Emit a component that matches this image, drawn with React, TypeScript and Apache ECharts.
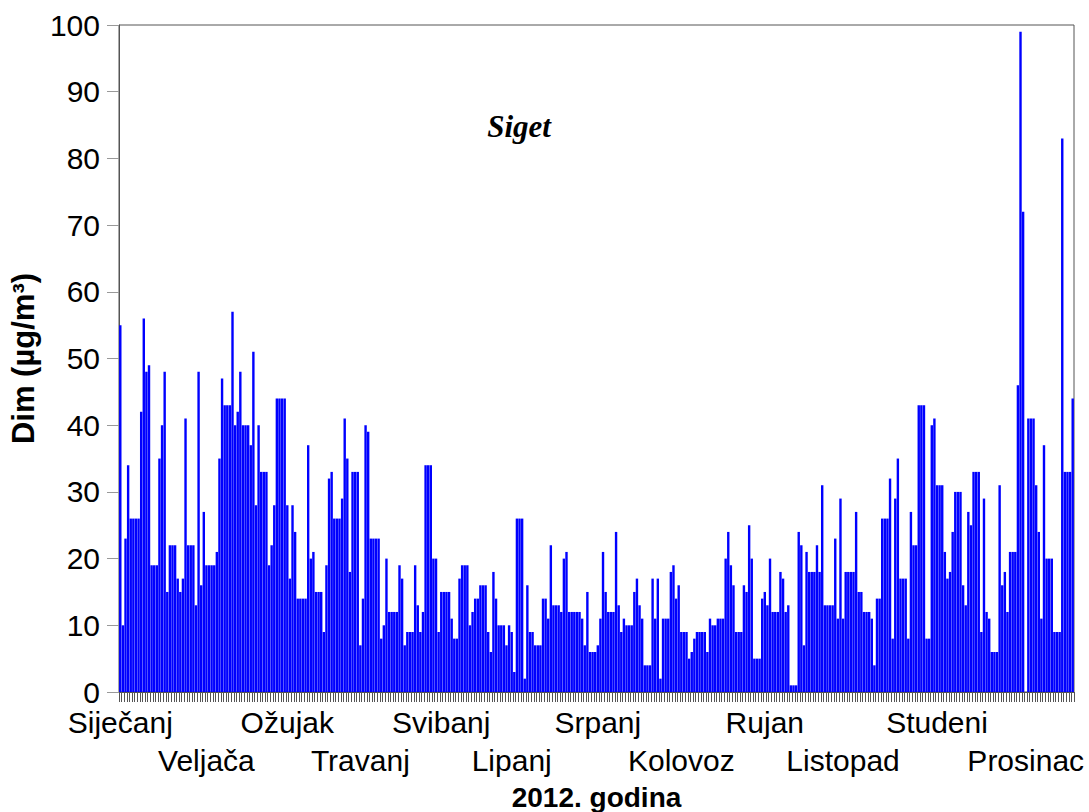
import { useEffect, useRef } from "react";
import * as echarts from "echarts";

// Month names (category labels)
const MONTHS = [
  "Siječanj", "Veljača", "Ožujak", "Travanj", "Svibanj", "Lipanj",
  "Srpanj", "Kolovoz", "Rujan", "Listopad", "Studeni", "Prosinac",
];

// Daily smoke concentration (µg/m³), 2012, Siget
const jan = [55,10,23,34,26,26,26,26,42,56,48,49,19,19,19,35,40,48,15,22,22,22,17,15,17,41,22,22,22,13,48];
const feb = [16,27,19,19,19,19,21,35,47,43,43,43,57,40,42,48,40,40,40,37,51,28,40,33,33,33,19,22,28];
const mar = [44,44,44,44,28,17,28,24,14,14,14,14,37,20,21,15,15,15,9,19,32,33,26,26,26,29,41,35,18,33,33];
const apr = [33,7,14,40,39,23,23,23,23,8,10,20,12,12,12,12,19,17,7,9,9,9,19,13,9,12,34,34,34,20];
const may = [20,9,15,15,15,15,11,8,8,17,19,19,19,10,12,14,14,16,16,16,9,6,18,14,10,10,10,7,10,9,3];
const jun = [26,26,26,2,16,9,9,7,7,7,14,14,11,22,13,13,13,12,20,21,12,12,12,12,12,11,7,15,6,6];
const jul = [6,7,11,21,15,12,12,12,24,13,9,11,10,10,10,15,17,13,11,4,4,4,17,11,17,2,11,11,11,18,19];
const aug = [14,16,9,9,9,5,6,8,9,9,9,9,6,11,10,10,11,11,11,20,24,19,16,9,9,9,16,15,25,20,5];
const sep = [5,5,14,15,13,20,12,12,12,18,17,12,13,1,1,1,24,22,7,21,18,18,18,22,18,31,13,13,13,13];
const oct = [23,11,29,11,18,18,18,18,27,15,15,12,12,12,11,4,14,14,26,26,26,32,8,29,35,17,17,17,8,27,22];
const nov = [22,43,43,43,8,8,40,41,31,31,31,21,17,18,24,30,30,30,16,13,27,25,33,33,33,9,29,12,11,6];
const dec = [6,6,31,16,18,12,21,21,21,46,99,72,null,41,41,41,31,24,11,37,20,20,20,9,9,9,83,33,33,33,44];

const MONTH_DATA: (number | null)[][] = [jan, feb, mar, apr, may, jun, jul, aug, sep, oct, nov, dec];

// Y axis range
const Y_MIN = 0;
const Y_MAX = 100;
const Y_STEP = 10;

// Layout tweak: label anchor shift (in days) from each month's first day
const LABEL_SHIFT = [0, 2, 4, 1, 2, -2, 1, 2, 3, 3, 8, 12];

export default function App() {
  const ref = useRef<HTMLDivElement>(null);

  useEffect(() => {
    if (!ref.current) return;
    const chart = echarts.init(ref.current, undefined, { renderer: "svg" });

    const values: (number | null)[] = [];
    const labelAt = new Map<number, string>();
    let start = 0;
    MONTH_DATA.forEach((arr, m) => {
      labelAt.set(start + LABEL_SHIFT[m], (m % 2 === 1 ? "\n" : "") + MONTHS[m]);
      arr.forEach((v) => values.push(v));
      start += arr.length;
    });
    const cats = values.map((_, i) => String(i + 1));

    const font = "Liberation Sans, Arial, sans-serif";

    chart.setOption({
      animation: false,
      backgroundColor: "#ffffff",
      grid: {
        left: 119,
        right: 15,
        top: 25,
        bottom: 120,
        show: true,
        borderColor: "#555555",
        borderWidth: 1,
        backgroundColor: "transparent",
        containLabel: false,
        outerBoundsMode: "none",
      },
      title: {
        text: "Siget",
        left: 514,
        top: 106,
        textAlign: "center",
        textStyle: {
          fontFamily: "Liberation Serif, Times New Roman, serif",
          fontStyle: "italic",
          fontWeight: "bold",
          fontSize: 31,
          color: "#000",
        },
      },
      xAxis: {
        type: "category",
        data: cats,
        name: "2012. godina",
        nameLocation: "middle",
        nameGap: 85,
        nameTextStyle: {
          fontFamily: font,
          fontWeight: "bold",
          fontSize: 28,
          color: "#000",
        },
        axisLine: { show: true, lineStyle: { color: "#555555", width: 1 } },
        axisTick: {
          show: true,
          interval: 0,
          length: 10,
          lineStyle: { color: "#555555", width: 1 },
        },
        axisLabel: {
          interval: 0,
          formatter: (_v: string, i: number) => labelAt.get(i) ?? "",
          margin: 11,
          fontFamily: font,
          fontSize: 30,
          lineHeight: 38,
          color: "#000",
          hideOverlap: false,
        },
        splitLine: { show: false },
      },
      yAxis: {
        type: "value",
        min: Y_MIN,
        max: Y_MAX,
        interval: Y_STEP,
        name: "Dim (µg/m³)",
        nameLocation: "middle",
        nameRotate: 90,
        nameGap: 76,
        nameTextStyle: {
          fontFamily: font,
          fontWeight: "bold",
          fontSize: 31,
          color: "#000",
        },
        axisLine: { show: true, lineStyle: { color: "#555555", width: 1 } },
        axisTick: { show: true, length: 12, lineStyle: { color: "#999999" } },
        axisLabel: {
          margin: 19,
          fontFamily: font,
          fontSize: 30,
          color: "#000",
        },
        splitLine: { show: false },
      },
      series: [
        {
          type: "bar",
          data: values,
          barCategoryGap: "8%",
          itemStyle: { color: "#0000ff" },
          silent: true,
        },
      ],
    });

    return () => chart.dispose();
  }, []);

  return (
    <div
      ref={ref}
      style={{ position: "absolute", left: 0, top: 0, width: 1089, height: 812 }}
    />
  );
}
